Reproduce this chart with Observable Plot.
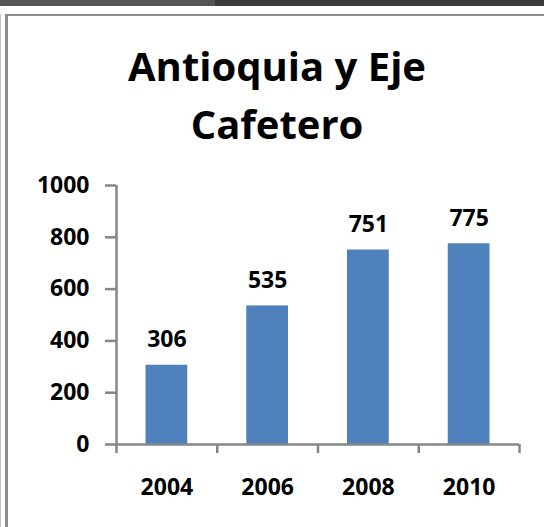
<!DOCTYPE html>
<html>
<head>
<meta charset="utf-8">
<script src="https://cdn.jsdelivr.net/npm/d3@7"></script>
<script src="https://cdn.jsdelivr.net/npm/@observablehq/plot@0.6"></script>
<style>
  html, body { margin: 0; padding: 0; background: #fff; }
  body { width: 544px; height: 527px; position: relative; overflow: hidden; font-family: "Open Sans", sans-serif; }
  #topband { position: absolute; left: 0; top: 0; width: 215px; height: 6px; background: #555; }
  #topband2 { position: absolute; left: 215px; top: 0; width: 329px; height: 6px; background: #3c3c3c; }
  #frame { position: absolute; left: 5px; top: 14px; width: 600px; height: 600px; border-left: 3px solid #8c8c8c; border-top: 2px solid #8c8c8c; box-sizing: border-box; }
  #edge { position: absolute; left: 0; top: 14px; width: 1px; height: 513px; background: #c4c4c4; }
  #title { position: absolute; left: 77px; top: 37px; width: 400px; text-align: center; font-family: "Open Sans", sans-serif; font-weight: bold; font-size: 40px; line-height: 58px; color: #000; }
  #chart { position: absolute; left: 0; top: 0; }
</style>
</head>
<body>
<div id="topband"></div>
<div id="topband2"></div>
<div id="edge"></div>
<div id="frame"></div>
<div id="title">Antioquia y Eje<br>Cafetero</div>
<div id="chart"></div>
<script>
const years = [2004, 2006, 2008, 2010];
const values = [306, 535, 751, 775];
const yTicks = [0, 200, 400, 600, 800, 1000];
const categoryEdges = [2003, 2005, 2007, 2009, 2011];

const data = years.map((year, i) => ({year, value: values[i]}));
const axisColor = "#868686";

const chart = Plot.plot({
  width: 544,
  height: 527,
  marginTop: 185,
  marginBottom: 83,
  marginLeft: 116,
  marginRight: 25,
  style: {fontFamily: "Open Sans, sans-serif", fontSize: "23px", fontWeight: "bold", color: "#000", background: "transparent"},
  x: {type: "linear", domain: [2003, 2011]},
  y: {domain: [0, 1000]},
  marks: [
    Plot.rectY(data, {x1: d => d.year - 1, x2: d => d.year + 1, y1: 0, y2: "value", fill: "#4F81BD", insetLeft: 29.5, insetRight: 29.5}),
    Plot.text(data, {x: "year", y: "value", text: d => String(d.value), lineAnchor: "bottom", dy: -18, fill: "#000", fontWeight: "bold", fontSize: 23}),
    Plot.ruleX([2003], {y1: 0, y2: 1000, stroke: axisColor, strokeWidth: 2.5}),
    Plot.ruleY([0], {x1: 2003, x2: 2011, stroke: axisColor, strokeWidth: 2.5}),
    Plot.ruleX(categoryEdges, {x: d => d, y1: 0, y2: 0, insetBottom: -9, stroke: axisColor, strokeWidth: 2.5}),
    Plot.axisY({ticks: yTicks, tickSize: 11, tickPadding: 16, stroke: axisColor, strokeWidth: 2.5, tickFormat: d => String(d), label: null, fill: "#000", fontSize: 23, fontWeight: "bold"}),
    Plot.axisX({ticks: years, tickSize: 0, tickPadding: 34, tickFormat: d => String(d), label: null, fill: "#000", fontSize: 23, fontWeight: "bold"})
  ]
});
document.getElementById("chart").appendChild(chart);
</script>
</body>
</html>
